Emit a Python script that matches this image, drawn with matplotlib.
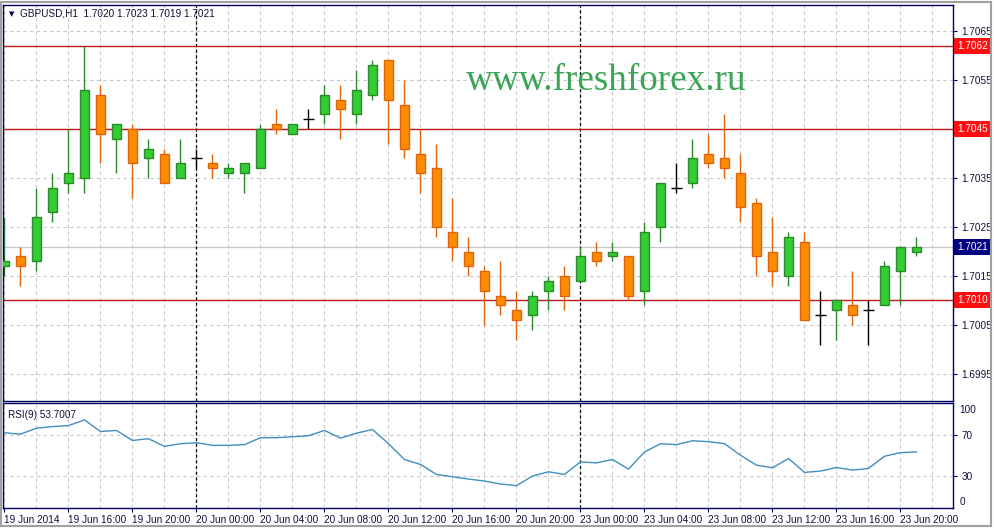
import matplotlib
matplotlib.use("Agg")
from matplotlib import pyplot as plt
from matplotlib.lines import Line2D
import matplotlib.transforms as mtransforms
import pandas as pd

# hourly bars, GBPUSD H1 (weekend gap between 20 Jun and 23 Jun)
times = list(pd.date_range("2014-06-19 12:00", "2014-06-20 23:00", freq="h")) + \
        list(pd.date_range("2014-06-23 00:00", "2014-06-23 21:00", freq="h"))

opens = [1.7017, 1.7019, 1.7018, 1.7028, 1.7034, 1.7035, 1.7052, 1.7043, 1.7045, 1.7039,
         1.7040, 1.7035, 1.7039, 1.7038, 1.7036, 1.7036, 1.7037, 1.7046, 1.7044, 1.7047,
         1.7048, 1.7051, 1.7048, 1.7052, 1.7059, 1.7050, 1.7040, 1.7037, 1.7024, 1.7020,
         1.7016, 1.7011, 1.7008, 1.7007, 1.7012, 1.7015, 1.7014, 1.7020, 1.7019, 1.7019,
         1.7012, 1.7025, 1.7033, 1.7034, 1.7040, 1.7039, 1.7036, 1.7030, 1.7020, 1.7015,
         1.7022, 1.7007, 1.7008, 1.7009, 1.7008, 1.7009, 1.7016, 1.7020]
highs = [1.7027, 1.7021, 1.7033, 1.7036, 1.7045, 1.7062, 1.7054, 1.7046, 1.7046, 1.7043,
         1.7041, 1.7043, 1.7041, 1.7040, 1.7038, 1.7038, 1.7046, 1.7049, 1.7046, 1.7049,
         1.7054, 1.7054, 1.7057, 1.7059, 1.7059, 1.7055, 1.7045, 1.7042, 1.7031, 1.7023,
         1.7017, 1.7018, 1.7012, 1.7012, 1.7015, 1.7017, 1.7021, 1.7022, 1.7022, 1.7019,
         1.7026, 1.7034, 1.7038, 1.7043, 1.7044, 1.7048, 1.7040, 1.7031, 1.7027, 1.7024,
         1.7024, 1.7012, 1.7010, 1.7016, 1.7010, 1.7018, 1.7021, 1.7023]
lows = [1.7015, 1.7013, 1.7016, 1.7026, 1.7032, 1.7032, 1.7038, 1.7036, 1.7031, 1.7035,
        1.7034, 1.7035, 1.7037, 1.7035, 1.7035, 1.7032, 1.7037, 1.7044, 1.7044, 1.7045,
        1.7046, 1.7043, 1.7046, 1.7051, 1.7042, 1.7039, 1.7032, 1.7023, 1.7018, 1.7015,
        1.7005, 1.7007, 1.7002, 1.7004, 1.7008, 1.7008, 1.7014, 1.7017, 1.7018, 1.7010,
        1.7009, 1.7022, 1.7032, 1.7033, 1.7037, 1.7035, 1.7026, 1.7015, 1.7013, 1.7013,
        1.7006, 1.7001, 1.7002, 1.7005, 1.7001, 1.7009, 1.7009, 1.7019]
closes = [1.7018, 1.7017, 1.7027, 1.7033, 1.7036, 1.7053, 1.7044, 1.7046, 1.7038, 1.7041,
          1.7034, 1.7038, 1.7039, 1.7037, 1.7037, 1.7038, 1.7045, 1.7045, 1.7046, 1.7047,
          1.7052, 1.7049, 1.7053, 1.7058, 1.7051, 1.7041, 1.7036, 1.7025, 1.7021, 1.7017,
          1.7012, 1.7009, 1.7006, 1.7011, 1.7014, 1.7011, 1.7019, 1.7018, 1.7020, 1.7011,
          1.7024, 1.7034, 1.7033, 1.7039, 1.7038, 1.7037, 1.7029, 1.7019, 1.7016, 1.7023,
          1.7006, 1.7007, 1.7010, 1.7007, 1.7008, 1.7017, 1.7021, 1.7021]
rsi = [72.5, 71.2, 77.0, 78.6, 79.6, 85.1, 73.8, 74.8, 65.0, 66.7,
       59.2, 61.8, 62.8, 60.2, 60.2, 60.9, 67.7, 67.7, 68.6, 69.6,
       74.8, 67.3, 72.1, 75.7, 61.8, 46.3, 41.5, 31.7, 29.4, 27.2,
       25.2, 22.3, 20.7, 30.1, 34.3, 31.7, 44.0, 43.0, 46.3, 36.9,
       53.7, 61.8, 60.9, 64.7, 63.8, 61.8, 50.5, 40.8, 38.2, 47.3,
       33.7, 35.0, 38.5, 35.9, 37.6, 49.5, 53.1, 53.7]

levels = [1.7062, 1.7045, 1.7010]
price_ticks = [1.6995, 1.7005, 1.7015, 1.7025, 1.7035, 1.7045, 1.7055, 1.7065]
rsi_grid = [30, 70]
symbol = "GBPUSD,H1"
rsi_name = "RSI(9) 53.7007"
watermark = "www.freshforex.ru"

plt.rcParams["font.family"] = ["Liberation Sans", "DejaVu Sans"]
TXT = "#10103a"
NAVY = "#000060"
GRID = "#c8c8c8"
UP_FACE, UP_EDGE = "#33cc33", "#2c8a2c"
DN_FACE, DN_EDGE = "#ff8c00", "#e0640a"

W, H = 995, 529
fig = plt.figure(figsize=(W / 100, H / 100), dpi=100)


def px_box(x0, y0, x1, y1):
    return [x0 / W, 1 - y1 / H, (x1 - x0) / W, (y1 - y0) / H]


ax = fig.add_axes(px_box(3.5, 5, 953, 400.5))
ax2 = fig.add_axes(px_box(3.5, 403, 953, 508))

n = len(closes)
xmin = -0.0625
xmax = xmin + (953 - 3.5) / 16
for a in (ax, ax2):
    a.set_xlim(xmin, xmax)
    for s in a.spines.values():
        s.set_color(NAVY)
        s.set_linewidth(1.0)
    # vertical grid every 2 bars
    for i in range(0, n + 2, 2):
        a.axvline(i, color=GRID, lw=0.8, ls=(0, (3, 3)), zorder=0)
    # day separators
    for i in range(1, n):
        if times[i].date() != times[i - 1].date():
            a.axvline(i, color="black", lw=0.9, ls=(0, (2.5, 2)), zorder=1)

ax.set_ylim(1.698959, 1.707031)
ax2.set_ylim(-1.2, 101.7)

# price panel
for p in price_ticks:
    ax.axhline(p, color=GRID, lw=0.8, ls=(0, (3, 3)), zorder=0)
ax.axhline(closes[-1], color="#c8c8c8", lw=0.9, zorder=0.5)
for lv in levels:
    ax.axhline(lv, color="#c01818", lw=1.0, zorder=1.5)

bw = 0.62
for i, (o, h, l, c) in enumerate(zip(opens, highs, lows, closes)):
    if c > o:
        ax.vlines(i, l, h, color=UP_EDGE, lw=1, zorder=2)
        ax.bar(i, c - o, bottom=o, width=bw, color=UP_FACE, edgecolor=UP_EDGE, lw=1, zorder=3)
    elif c < o:
        ax.vlines(i, l, h, color=DN_EDGE, lw=1, zorder=2)
        ax.bar(i, o - c, bottom=c, width=bw, color=DN_FACE, edgecolor=DN_EDGE, lw=1, zorder=3)
    else:
        ax.vlines(i, l, h, color="black", lw=1, zorder=2)
        ax.hlines(c, i - 0.34, i + 0.34, color="black", lw=1, zorder=3)

ax.yaxis.tick_right()
ax.set_yticks(price_ticks)
# a tick label hidden under a level box is left empty
ax.set_yticklabels(["" if any(abs(p - lv) < 1e-6 for lv in levels) else f"{p:.4f}"
                    for p in price_ticks])
ax.tick_params(axis="y", length=3, color=NAVY, labelcolor=TXT, labelsize=7.2, pad=3)
ax.set_xticks([])

trans = mtransforms.blended_transform_factory(ax.transAxes, ax.transData)
for lv in levels:
    ax.text(1.0042, lv, f"{lv:.4f}", transform=trans, color="white", fontsize=7.2,
            va="center", ha="left", clip_on=False, zorder=10,
            bbox=dict(boxstyle="square,pad=0.3", facecolor="#ff1010", edgecolor="none"))
ax.text(1.0042, closes[-1], f"{closes[-1]:.4f}", transform=trans, color="white", fontsize=7.2,
        va="center", ha="left", clip_on=False, zorder=10,
        bbox=dict(boxstyle="square,pad=0.3", facecolor="#000080", edgecolor="none"))

# RSI panel
for r in rsi_grid:
    ax2.axhline(r, color=GRID, lw=0.8, ls=(0, (3, 3)), zorder=0)
ax2.plot(range(n), rsi, color="#3f8fc0", lw=1, zorder=3)
ax2.yaxis.tick_right()
ax2.set_yticks(rsi_grid)
ax2.set_yticklabels([str(r) for r in rsi_grid])
ax2.tick_params(axis="y", length=3, color=NAVY, labelcolor=TXT, labelsize=7.2, pad=3)
tr2 = mtransforms.blended_transform_factory(ax2.transAxes, ax2.transData)
ax2.text(1.007, 100, "100", transform=tr2, color=TXT, fontsize=7.2, va="top", ha="left")
ax2.text(1.007, 0, "0", transform=tr2, color=TXT, fontsize=7.2, va="bottom", ha="left")
ax2.text(0.005, 0.93, rsi_name, transform=ax2.transAxes, color=TXT, fontsize=7.2,
         va="top", ha="left")

tick_idx = list(range(0, n, 4))
tick_lbl = []
for i in tick_idx:
    t = times[i]
    tick_lbl.append(t.strftime("%d %b %Y") if i == 0 else t.strftime("%d %b %H:%M"))
ax2.set_xticks(tick_idx)
ax2.set_xticklabels(tick_lbl)
ax2.tick_params(axis="x", length=3, color=NAVY, labelcolor=TXT, labelsize=7.2, pad=2)
for lbl in ax2.get_xticklabels():
    lbl.set_ha("left")

# header and watermark
fig.text(9 / W, 1 - 14 / H, "\u25bc", color=NAVY, fontsize=5, va="center", ha="left",
         family=["DejaVu Sans"])
fig.text(20 / W, 1 - 14 / H,
         f"{symbol}  {opens[-1]:.4f} {highs[-1]:.4f} {lows[-1]:.4f} {closes[-1]:.4f}",
         color=TXT, fontsize=7.2, va="center", ha="left")
fig.text(466 / W, 1 - 90 / H, watermark, family="Liberation Serif", fontsize=26.7,
         color="#3aa655", va="baseline", ha="left")

# window frame
for (x0, y0, x1, y1) in [(1, 1.5, 991.5, 1.5), (1, 526, 991.5, 526),
                         (1, 1.5, 1, 526), (991.5, 1.5, 991.5, 526)]:
    fig.add_artist(Line2D([x0 / W, x1 / W], [1 - y0 / H, 1 - y1 / H], color="#a0a0a0", lw=1.5))

fig.savefig("out.png", dpi=100)
